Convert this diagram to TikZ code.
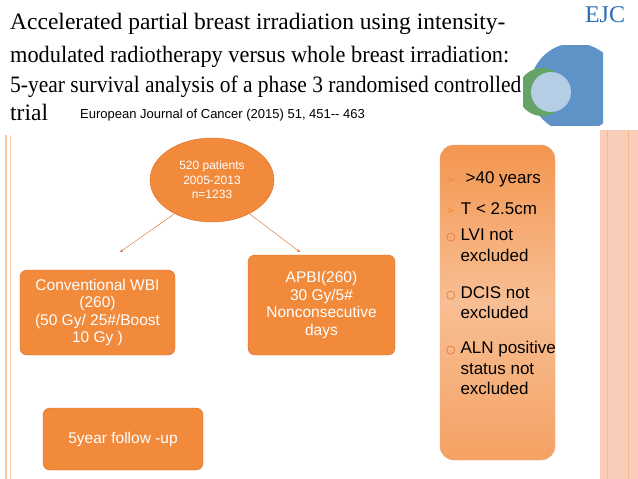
\documentclass[tikz,border=0pt]{standalone}
\usepackage{fontspec}
\setmainfont{Liberation Serif}
\newfontfamily\arial{Liberation Sans}
\newfontfamily\dejavu{DejaVu Sans}
\usetikzlibrary{shapes,positioning,arrows}
\definecolor{orangefill}{HTML}{F28A3C}
\definecolor{orangeline}{HTML}{D9692A}
\definecolor{pinkband}{HTML}{F9CDB8}
\definecolor{ejcblue}{HTML}{2A6FB5}
\tikzstyle{flowbox}=[rectangle,rounded corners=7pt,draw=orangeline,fill=orangefill,text=white,font=\arial\fontsize{15.5}{17.5}\selectfont,align=center]
\tikzstyle{flowarrow}=[draw=orangeline,-stealth,thin]
\tikzstyle{bulletline}=[anchor=west,font=\arial\fontsize{17}{20.5}\selectfont,align=left,inner sep=0pt]
\tikzstyle{titleline}=[anchor=base west,inner sep=0pt,font=\fontsize{23.5}{26}\selectfont,transform shape]

\begin{document}
\begin{tikzpicture}[x=1pt,y=-1pt]
    \useasboundingbox (0,0) rectangle (638,479);
    % frame lines and band
    \fill[pinkband] (600,130) rectangle (638,479);
    \draw[orangefill!60,line width=1pt] (607,130) -- (607,479);
    \draw[orangefill!60,line width=1pt] (628,130) -- (628,479);
    \draw[orangefill!50,line width=1.5pt] (6,135) -- (6,479);
    \draw[orangefill!40,line width=0.8pt] (10,135) -- (10,479);
    % journal cover
    \node[anchor=north,inner sep=0pt,text=ejcblue,font=\fontsize{24}{26}\selectfont] (ejc) at (605,6) {EJC};
    \begin{scope}
        \clip (523,45) rectangle (603,125);
        \fill[ejcblue!75] (575,88) circle[radius=45];
        \fill[green!40!black!60] (542,92) circle[radius=24];
        \fill[ejcblue!35] (551,92) circle[radius=20];
    \end{scope}
    % title
    \node[titleline] (title1) at (10,30) {Accelerated partial breast irradiation using intensity-};
    \node[titleline,xscale=0.95] (title2) at (10,62) {modulated radiotherapy versus whole breast irradiation:};
    \node[titleline,xscale=0.915] (title3) at (10,92) {5-year survival analysis of a phase 3 randomised controlled};
    \node[titleline] (title4) at (10,120) {trial};
    \node[anchor=base west,inner sep=0pt,font=\arial\fontsize{13}{15}\selectfont] (journal) at (80,118) {European Journal of Cancer (2015) 51, 451-- 463};
    % flow chart
    \node[ellipse,draw=orangeline,fill=orangefill,text=white,minimum width=124pt,minimum height=84pt,align=center,font=\arial\fontsize{12}{14.5}\selectfont] (patients) at (212,180) {520 patients\\2005-2013\\n=1233};
    \node[flowbox,minimum width=155pt,minimum height=85pt] (wbi) at (97.5,312.5) {Conventional WBI\\(260)\\(50 Gy/ 25\#/Boost\\10 Gy )};
    \node[flowbox,minimum width=147pt,minimum height=100pt] (apbi) at (321.5,305) {APBI(260)\\30 Gy/5\#\\Nonconsecutive\\days};
    \node[flowbox,minimum width=160pt,minimum height=62pt] (followup) at (123,439) {5year follow -up};
    \coordinate (wbitip) at (120,252);
    \coordinate (apbitip) at (300,252);
    \path[flowarrow] (patients.222) -- (wbitip);
    \path[flowarrow] (patients.318) -- (apbitip);
    % criteria box
    \node[rectangle,rounded corners=14pt,draw=orangeline!60,top color=orangefill!90,bottom color=orangefill!80,middle color=orangefill!55,minimum width=115pt,minimum height=315pt] (criteria) at (497.5,302.5) {};
    \node[bulletline] (c1) at (446,179) {{\dejavu\fontsize{12}{12}\selectfont\color{orangefill}➢}\ \ >40 years};
    \node[bulletline] (c2) at (446,209) {{\dejavu\fontsize{12}{12}\selectfont\color{orangefill}➢}\ T < 2.5cm};
    \node[bulletline,anchor=north west] (c3) at (446,229) {{\dejavu\fontsize{11}{11}\selectfont\color{orangeline}○}\ LVI not\\\hphantom{\dejavu\fontsize{11}{11}\selectfont○}\ excluded};
    \node[bulletline,anchor=north west] (c4) at (446,286) {{\dejavu\fontsize{11}{11}\selectfont\color{orangeline}○}\ DCIS not\\\hphantom{\dejavu\fontsize{11}{11}\selectfont○}\ excluded};
    \node[bulletline,anchor=north west] (c5) at (446,341) {{\dejavu\fontsize{11}{11}\selectfont\color{orangeline}○}\ ALN positive\\\hphantom{\dejavu\fontsize{11}{11}\selectfont○}\ status not\\\hphantom{\dejavu\fontsize{11}{11}\selectfont○}\ excluded};
\end{tikzpicture}
\end{document}
